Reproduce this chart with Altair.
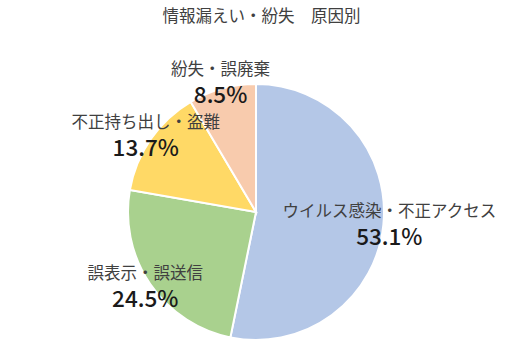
import altair as alt
import pandas as pd

categories = ["ウイルス感染・不正アクセス", "誤表示・誤送信", "不正持ち出し・盗難", "紛失・誤廃棄"]
shares = [53.1, 24.5, 13.7, 8.5]
pct_labels = ["53.1%", "24.5%", "13.7%", "8.5%"]
colors = ["#b4c7e7", "#a9d18e", "#ffd966", "#f8cbad"]
title_text = "情報漏えい・紛失　原因別"

df = pd.DataFrame({
    "category": categories,
    "share": shares,
    "pct": pct_labels,
    "order": list(range(len(categories))),
})

FONT = "Noto Sans CJK JP"
TXT = "#404040"

base = alt.Chart(df).encode(
    theta=alt.Theta("share:Q", stack=True),
    order=alt.Order("order:Q"),
    x=alt.value(256),
    y=alt.value(182),
)

pie = base.mark_arc(outerRadius=128, stroke="white", strokeWidth=2).encode(
    color=alt.Color("category:N", scale=alt.Scale(domain=categories, range=colors), legend=None)
)

lab = base.mark_text(radius=134, dy=-13, fontSize=16.5, font=FONT, color=TXT).encode(
    text="category:N"
)
pct = base.mark_text(radius=134, dy=13, fontSize=22.5, fontWeight=500, font=FONT, color="#1a1a1a").encode(
    text="pct:N"
)

chart = alt.layer(pie, lab, pct).properties(
    width=523,
    height=327,
    title=alt.TitleParams(title_text, font=FONT, fontSize=16.5, fontWeight="normal", color=TXT, anchor="middle", offset=5),
    padding={"top": 30, "left": 0, "right": 0, "bottom": 0},
    autosize="none",
).configure_view(stroke=None)

chart.save("out.html", embed_options={"renderer": "svg", "actions": False})
